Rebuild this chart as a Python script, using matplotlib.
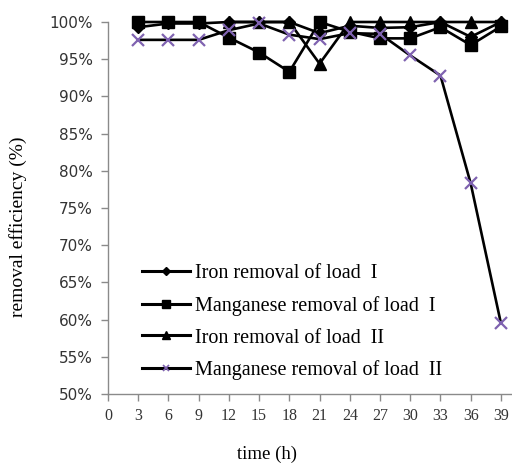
import numpy as np
import matplotlib
matplotlib.use("Agg")
import matplotlib.pyplot as plt
from matplotlib.lines import Line2D
from matplotlib.ticker import PercentFormatter

# data (removal efficiency, %)
hours = [3, 6, 9, 12, 15, 18, 21, 24, 27, 30, 33, 36, 39]
fe_load1 = [99.3, 99.8, 99.8, 100, 100, 100, 98.5, 99.5, 99.2, 99.3, 100, 98.0, 100]
mn_load1 = [100, 100, 100, 97.9, 95.9, 93.3, 100, 98.7, 97.8, 97.8, 99.3, 96.9, 99.4]
fe_load2 = [np.nan, np.nan, np.nan, 100, 100, 100, 94.4, 100, 100, 100, 100, 100, 100]
mn_load2 = [97.6, 97.6, 97.6, 98.9, 99.8, 98.3, 97.7, 98.5, 98.4, 95.5, 92.8, 78.3, 59.5]

labels = ["Iron removal of load  I", "Manganese removal of load  I",
          "Iron removal of load  II", "Manganese removal of load  II"]
xticks = list(range(0, 40, 3))

purple = "#7f62b0"
grey = "#8a8a8a"
serif = "Liberation Serif"

fig = plt.figure(figsize=(5.12, 4.69), dpi=100)
ax = fig.add_axes([108 / 512, 1 - 394 / 469, 403 / 512, 372 / 469])

lw = 1.9
ax.plot(hours, fe_load1, color="black", lw=lw, marker="D", ms=6, clip_on=False, zorder=3)
ax.plot(hours, mn_load1, color="black", lw=lw, marker="s", ms=9, clip_on=False, zorder=4)
ax.plot(hours, fe_load2, color="black", lw=lw, marker="^", ms=8.5, clip_on=False, zorder=5)
ax.plot(hours, mn_load2, color="black", lw=lw, marker="x", ms=8, mec=purple, mew=1.6,
        clip_on=False, zorder=6)

ax.set_xlim(0, 40)
ax.set_ylim(50, 100)
ax.set_xticks(xticks)
ax.set_yticks(range(50, 101, 5))
ax.yaxis.set_major_formatter(PercentFormatter(decimals=0))

for s in ["top", "right"]:
    ax.spines[s].set_visible(False)
for s in ["left", "bottom"]:
    ax.spines[s].set_color(grey)
    ax.spines[s].set_linewidth(1.0)

ax.tick_params(axis="both", direction="out", length=5, color=grey, width=1)
ax.tick_params(axis="y", labelsize=11, labelcolor="#333333", pad=6)
ax.tick_params(axis="x", labelsize=11.5, labelcolor="#333333", pad=5)
for t in ax.get_xticklabels():
    t.set_fontfamily(serif)

ax.set_xlabel("time (h)", fontsize=13.5, fontfamily=serif, labelpad=14)
ax.xaxis.set_label_coords(0.395, -0.14)
ax.set_ylabel("removal efficiency (%)", fontsize=14, fontfamily=serif)
ax.yaxis.set_label_coords(-0.20, 0.45)

# legend with smaller markers, as in the original
handles = [
    Line2D([], [], color="black", lw=2.2, marker="D", ms=4.5),
    Line2D([], [], color="black", lw=2.2, marker="s", ms=6),
    Line2D([], [], color="black", lw=2.2, marker="^", ms=6),
    Line2D([], [], color="black", lw=2.2, marker="x", ms=5, mec=purple, mew=1.2),
]
leg = ax.legend(handles, labels, loc="center left",
                bbox_to_anchor=((142 - 108) / 403, (394 - 322) / 372),
                frameon=False, borderpad=0, borderaxespad=0,
                handlelength=2.4, handletextpad=0.25, labelspacing=0.64,
                prop={"family": serif, "size": 14.5})

fig.savefig("out.png", dpi=100)
